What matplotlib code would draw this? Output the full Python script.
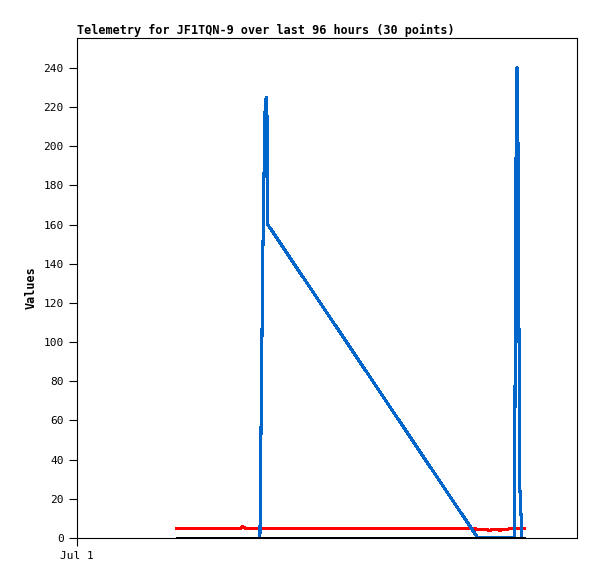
import matplotlib
matplotlib.use("Agg")
import matplotlib.pyplot as plt

# hours since Jul 1 00:00
blue_x = [43.9, 44.0, 44.2, 44.4, 44.6, 44.9, 45.1, 45.4, 45.6, 45.8, 96.2, 105.0, 105.1, 105.3, 105.6, 105.8, 105.9, 106.3, 106.8]
blue_y = [0, 22, 63, 105, 145, 188, 217, 225, 215, 160, 0, 0, 60, 180, 240, 217, 168, 25, 0]

red_x = [24.0, 39.1, 39.8, 40.6, 94.3, 96.7, 97.9, 99.1, 100.3, 101.5, 102.7, 103.9, 105.0, 107.5]
red_y = [4.7, 4.7, 5.8, 4.7, 4.7, 4.5, 4.2, 4.0, 4.4, 4.0, 4.3, 4.7, 4.7, 4.7]

black_x = [24.0, 107.5]
black_y = [0, 0]

yticks = list(range(0, 241, 20))

plt.rcParams['font.family'] = ['DejaVu Sans Mono']

fig = plt.figure(figsize=(5.97, 5.79), dpi=100)
ax = fig.add_axes([77 / 597, 41 / 579, 500 / 597, 500 / 579])

ax.plot(red_x, red_y, color='#ff0000', linewidth=1.5, antialiased=False, zorder=2)
ax.plot(blue_x, blue_y, color='#0066cc', linewidth=1.5, antialiased=False, zorder=3)
ax.plot(black_x, black_y, color='black', linewidth=1.3, antialiased=False,
        clip_on=False, zorder=4)

ax.set_xlim(0, 120)
ax.set_ylim(0, 255.3)
ax.set_yticks(yticks)
ax.set_yticklabels([str(v) for v in yticks], fontsize=8)
ax.set_xticks([0])
ax.set_xticklabels(['Jul 1'], fontsize=8)
ax.tick_params(direction='out', length=6, width=0.8)
for s in ax.spines.values():
    s.set_linewidth(0.8)

ax.set_ylabel('Values', fontsize=8.5, fontweight='bold')
ax.set_title('Telemetry for JF1TQN-9 over last 96 hours (30 points)', fontsize=8.5,
             fontweight='bold', loc='left', pad=3)

fig.savefig('out.png', dpi=100)
